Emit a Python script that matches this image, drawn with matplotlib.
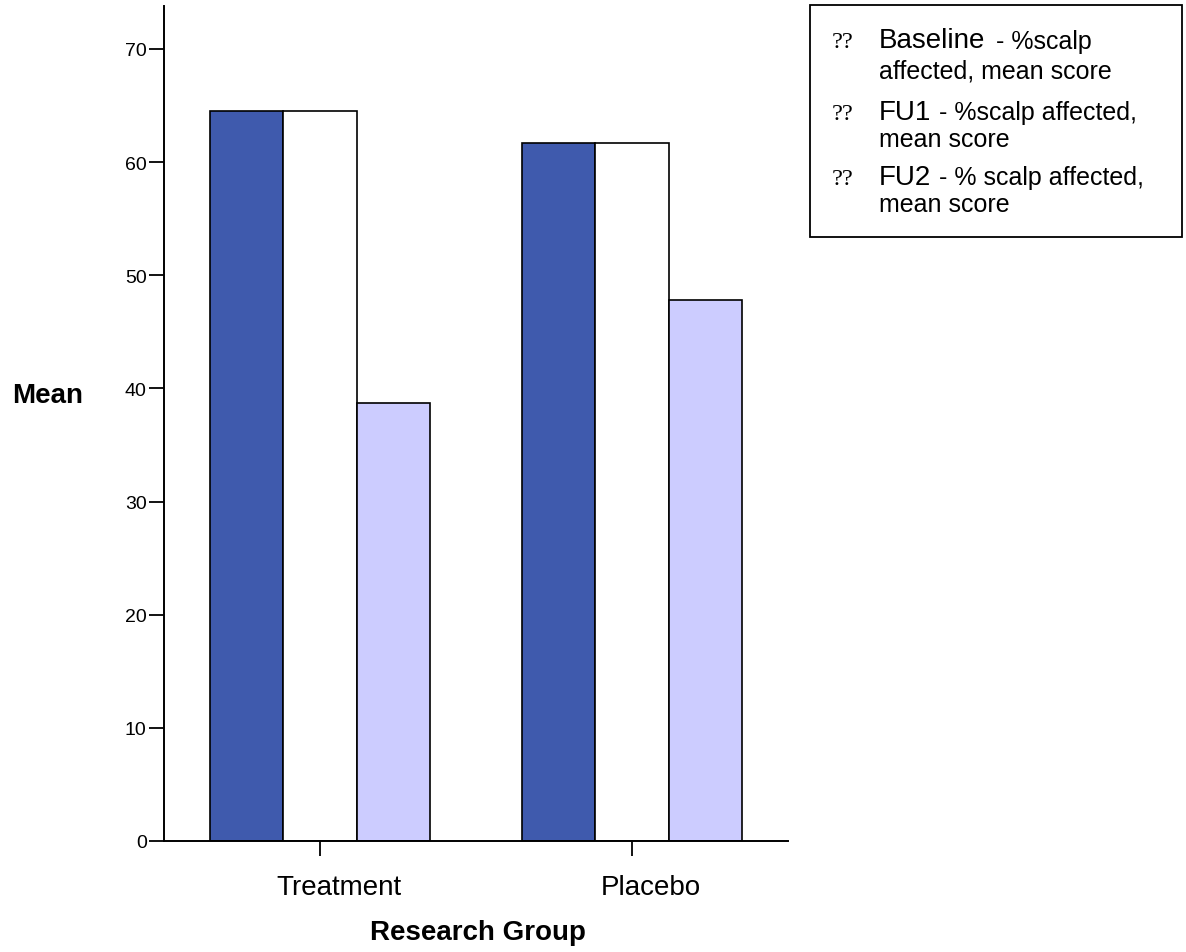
import numpy as np
import matplotlib
matplotlib.use('Agg')
import matplotlib.pyplot as plt
from matplotlib.patches import Rectangle
from matplotlib.transforms import ScaledTranslation

plt.rcParams['font.family'] = ['Liberation Sans', 'DejaVu Sans']

groups = ['Treatment', 'Placebo']
series_names = ['Baseline', 'FU1', 'FU2']
baseline = [64.5, 61.7]
fu1 = [64.5, 61.7]
fu2 = [38.7, 47.8]
yticks = [0, 10, 20, 30, 40, 50, 60, 70]

# legend text: (big word, rest of first line, second line)
legend_rows = [
    ('Baseline', '- %scalp', 'affected, mean score'),
    ('FU1', '- %scalp affected,', 'mean score'),
    ('FU2', '- % scalp affected,', 'mean score'),
]

colors = ['#3F5AAD', '#FFFFFF', '#CCCCFF']
W, H = 1186, 953

fig = plt.figure(figsize=(W / 100, H / 100), dpi=100)
ax = fig.add_axes([164 / W, 1 - 842 / H, (788 - 164) / W, (842 - 7) / H])

x = np.arange(len(groups))
width = 0.235
for i, vals in enumerate([baseline, fu1, fu2]):
    ax.bar(x + (i - 1) * width, vals, width, color=colors[i],
           edgecolor='black', linewidth=1.2, label=series_names[i])

ax.set_xlim(-0.5, 1.5)
ax.set_ylim(0, 73.8)
ax.set_yticks(yticks)
ax.set_xticks(x)
ax.set_xticklabels(groups, fontsize=20)
ax.tick_params(axis='y', labelsize=14, length=11, width=1.3, pad=1.5)
ax.tick_params(axis='x', length=11, width=1.3, pad=12.5)
# SPSS puts the category labels a little right of the tick
shift = ScaledTranslation(19 / 100, 0, fig.dpi_scale_trans)
for lab in ax.get_xticklabels():
    lab.set_transform(lab.get_transform() + shift)
for s in ['top', 'right']:
    ax.spines[s].set_visible(False)
for s in ['left', 'bottom']:
    ax.spines[s].set_linewidth(1.4)

def px(xp, yp):
    return xp / W, 1 - yp / H

fig.text(*px(47.5, 403), 'Mean', fontsize=20, fontweight='bold',
         ha='center', va='baseline')
fig.text(*px(477.5, 940), 'Research Group', fontsize=20,
         fontweight='bold', ha='center', va='baseline')

# legend box drawn by hand
fig.patches.append(Rectangle(px(810, 238), (1182 - 810) / W,
                             (238 - 6) / H, transform=fig.transFigure,
                             facecolor='white', edgecolor='black',
                             linewidth=1.3))

row_base = [48.5, 120.3, 185.3]
line2_base = [78.5, 147, 212]
small_x = [996, 939, 939]
for (big, small, line2), yb, y2, xs in zip(legend_rows, row_base,
                                           line2_base, small_x):
    fig.text(*px(832, yb), '??', fontsize=17.5, family='Liberation Serif',
             va='baseline')
    fig.text(*px(879, yb), big, fontsize=20, va='baseline')
    fig.text(*px(xs, yb), small, fontsize=18, va='baseline')
    fig.text(*px(879, y2), line2, fontsize=18, va='baseline')

fig.savefig('out.png', dpi=100)
